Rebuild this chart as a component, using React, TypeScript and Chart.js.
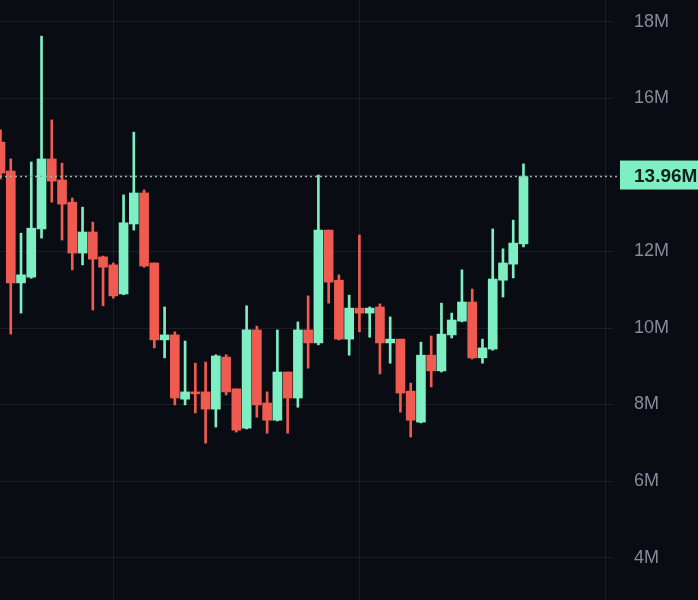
import React, { useEffect, useRef } from "react";
import { Chart, registerables } from "chart.js";

Chart.register(...registerables);

// Candle data (values in millions)
const OPEN = [
  14.86, 14.10, 11.18, 11.33, 12.59, 14.42, 13.87, 13.29, 11.96, 12.51,
  11.86, 11.65, 10.89, 12.72, 13.53, 11.70, 9.69, 9.82, 8.14, 8.33,
  8.33, 7.88, 9.24, 8.41, 7.38, 9.95, 8.04, 7.59, 8.85, 8.17,
  9.95, 9.61, 12.56, 11.25, 9.71, 10.52, 10.39, 10.55, 9.61, 9.71,
  8.35, 7.54, 9.29, 8.88, 9.82, 10.18, 10.68, 9.22, 9.45, 11.25,
  11.67, 12.20,
];
const HIGH = [
  15.18, 14.42, 12.48, 14.34, 17.63, 15.44, 14.31, 13.40, 13.16, 12.77,
  11.88, 11.70, 13.48, 15.12, 13.61, 11.70, 10.55, 9.90, 9.66, 9.08,
  9.11, 9.30, 9.30, 8.41, 10.58, 10.05, 8.33, 9.95, 8.85, 10.16,
  10.84, 14.00, 12.56, 11.39, 10.86, 12.43, 10.55, 10.63, 10.29, 9.71,
  8.56, 9.63, 9.79, 10.65, 10.39, 11.52, 11.02, 9.71, 12.59, 12.07,
  12.82, 14.29,
];
const LOW = [
  13.90, 9.84, 10.39, 11.30, 12.35, 13.29, 12.30, 11.52, 11.65, 10.47,
  10.58, 10.78, 10.87, 12.56, 11.59, 9.48, 9.22, 7.99, 7.99, 7.78,
  6.99, 7.41, 8.25, 7.28, 7.36, 7.67, 7.25, 7.57, 7.25, 7.93,
  8.95, 9.56, 10.65, 9.69, 9.29, 9.90, 9.76, 8.80, 9.08, 7.80,
  7.15, 7.52, 8.46, 8.85, 9.74, 10.16, 9.19, 9.08, 9.42, 10.81,
  11.31, 12.12,
];
const CLOSE = [
  14.05, 11.18, 11.39, 12.61, 14.42, 13.84, 13.24, 11.96, 12.51, 11.80,
  11.59, 10.84, 12.75, 13.53, 11.62, 9.69, 9.82, 8.17, 8.33, 8.28,
  7.88, 9.27, 8.33, 7.33, 9.95, 7.99, 7.59, 8.85, 8.17, 9.95,
  9.61, 12.56, 11.20, 9.71, 10.52, 10.39, 10.52, 9.61, 9.71, 8.30,
  7.59, 9.29, 8.88, 9.84, 10.21, 10.68, 9.22, 9.48, 11.28, 11.70,
  12.22, 13.96,
];

const LAST_PRICE = 13.96;
const LAST_LABEL = "13.96M";
const Y_TICKS = [4, 6, 8, 10, 12, 14, 16, 18];
const X_GRID = [11, 35, 59];

const BG = "#0a0c14";
const UP = "#7eeec3";
const DOWN = "#ef5b50";
const FONT = '"Liberation Sans", Arial, sans-serif';

const lastPricePlugin = {
  id: "lastPrice",
  afterDatasetsDraw(chart: any) {
    const y = chart.scales.y.getPixelForValue(LAST_PRICE);
    const ctx = chart.ctx;
    const boxLeft = chart.chartArea.right + 7;
    ctx.save();
    ctx.strokeStyle = "#9fb0aa";
    ctx.lineWidth = 1.5;
    ctx.setLineDash([2, 3]);
    ctx.beginPath();
    ctx.moveTo(0, y);
    ctx.lineTo(boxLeft, y);
    ctx.stroke();
    ctx.restore();
  },
  afterDraw(chart: any) {
    const y = chart.scales.y.getPixelForValue(LAST_PRICE);
    const ctx = chart.ctx;
    const boxLeft = chart.chartArea.right + 7;
    ctx.save();
    ctx.fillStyle = UP;
    ctx.fillRect(boxLeft, y - 16, chart.width - boxLeft + 2, 29);
    ctx.fillStyle = "#10201a";
    ctx.font = `bold 19px ${FONT}`;
    ctx.textAlign = "left";
    ctx.textBaseline = "middle";
    ctx.fillText(LAST_LABEL, boxLeft + 14, y);
    ctx.restore();
  },
};

const bgPlugin = {
  id: "bg",
  beforeDraw(chart: any) {
    const ctx = chart.ctx;
    ctx.save();
    ctx.fillStyle = BG;
    ctx.fillRect(0, 0, chart.width, chart.height);
    ctx.restore();
  },
};

export default function App() {
  const ref = useRef<HTMLCanvasElement | null>(null);

  useEffect(() => {
    if (!ref.current) return;
    const colors = OPEN.map((o, i) => (CLOSE[i] >= o ? UP : DOWN));
    const wicks = OPEN.map((_, i) => ({ x: i, y: [LOW[i], HIGH[i]] }));
    const bodies = OPEN.map((o, i) => ({ x: i, y: [o, CLOSE[i]] }));

    const chart = new Chart(ref.current, {
      type: "bar",
      data: {
        datasets: [
          {
            label: "wick",
            data: wicks as any,
            backgroundColor: colors,
            barThickness: 2,
            grouped: false,
            order: 1,
          } as any,
          {
            label: "body",
            data: bodies as any,
            backgroundColor: colors,
            barThickness: 9,
            grouped: false,
            order: 0,
          } as any,
        ],
      },
      options: {
        animation: false,
        responsive: false,
        maintainAspectRatio: false,
        layout: { padding: 0 },
        plugins: {
          legend: { display: false },
          tooltip: { enabled: false },
        },
        scales: {
          x: {
            type: "linear",
            min: -0.05,
            max: 59.73,
            offset: false,
            display: true,
            ticks: { display: false },
            border: { display: false },
            grid: {
              color: "rgba(255,255,255,0.07)",
              drawTicks: false,
              lineWidth: 1,
              offset: false,
            },
            afterBuildTicks: (scale: any) => {
              scale.ticks = X_GRID.map((v) => ({ value: v }));
            },
            afterFit: (scale: any) => {
              scale.height = 0;
              scale.paddingLeft = 0;
              scale.paddingRight = 0;
            },
          },
          y: {
            type: "linear",
            position: "right",
            min: 2.89,
            max: 18.575,
            border: { display: false },
            grid: { color: "rgba(255,255,255,0.07)", drawTicks: false, lineWidth: 1 },
            ticks: {
              color: "#868a99",
              padding: 21,
              font: { family: FONT, size: 18 },
              callback: (v: any) => `${v}M`,
            },
            afterBuildTicks: (scale: any) => {
              scale.ticks = Y_TICKS.map((v) => ({ value: v }));
            },
            afterFit: (scale: any) => {
              scale.width = 85;
              scale.paddingTop = 0;
              scale.paddingBottom = 0;
            },
          },
        },
      },
      plugins: [bgPlugin, lastPricePlugin],
    });
    return () => chart.destroy();
  }, []);

  return (
    <div
      style={{
        position: "fixed",
        left: 0,
        top: 0,
        width: 698,
        height: 600,
        background: BG,
      }}
    >
      <canvas ref={ref} width={698} height={600} style={{ display: "block" }} />
    </div>
  );
}
